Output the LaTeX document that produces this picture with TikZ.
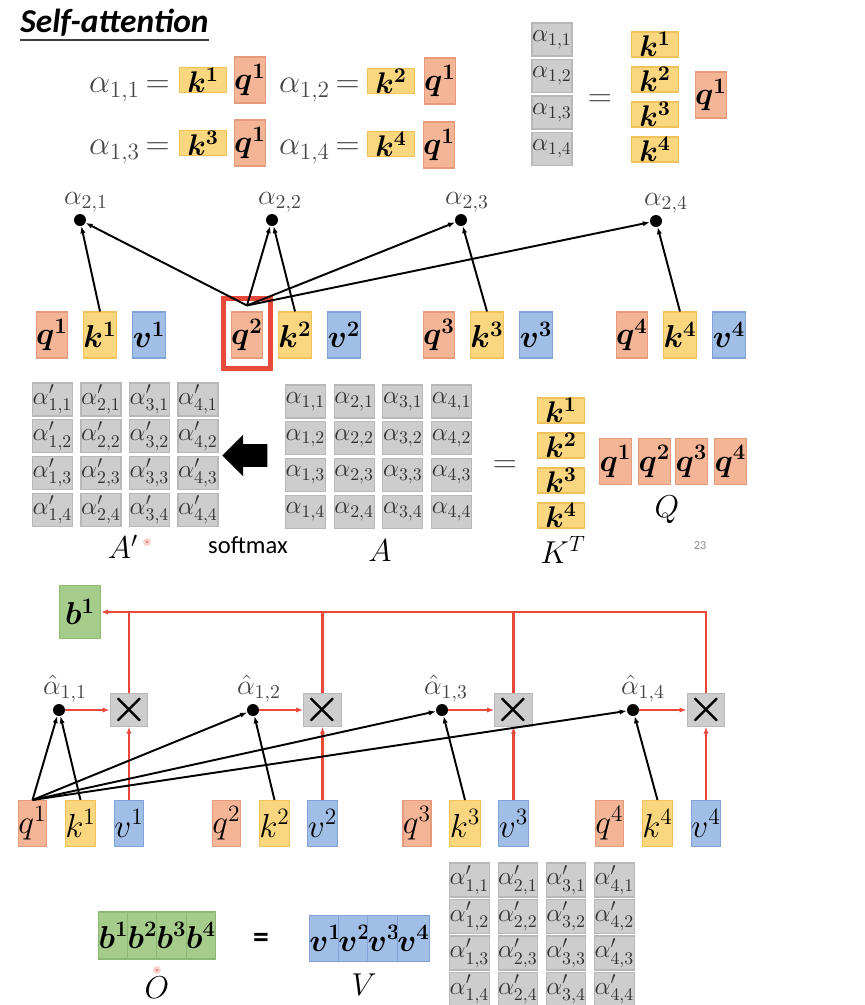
\documentclass[tikz,border=0pt]{standalone}
\usepackage{fix-cm}
\usepackage{amsmath,bm}
\usepackage{fontspec}
\setsansfont{Carlito}
\usetikzlibrary{arrows.meta,positioning,shapes.arrows}
\definecolor{qFill}{HTML}{F4B496}
\definecolor{qLine}{HTML}{E39B7B}
\definecolor{kFill}{HTML}{FAD67E}
\definecolor{kLine}{HTML}{EFC25C}
\definecolor{vFill}{HTML}{A0BEE6}
\definecolor{vLine}{HTML}{80A2D4}
\definecolor{aFill}{HTML}{CDCDCD}
\definecolor{aLine}{HTML}{B8B8B8}
\definecolor{bFill}{HTML}{A6CC8C}
\definecolor{bLine}{HTML}{8CB873}
\definecolor{attnRed}{HTML}{E8493B}
\definecolor{alphaGray}{HTML}{474747}
\newdimen\pxu \pxu=0.02cm
\newcommand\pxfont[1]{\fontsize{#1}{#1}\selectfont}
\newcommand\bvec[2]{$\bm{#1}^{\bm{#2}}$}

\begin{document}
\begin{tikzpicture}[
  x=\pxu, y=-\pxu,
  cell/.style={rectangle,inner sep=0pt,line width=0.6pt},
  qcell/.style={cell,fill=qFill,draw=qLine,minimum width=26\pxu,minimum height=46\pxu,font=\pxfont{18}},
  kcell/.style={cell,fill=kFill,draw=kLine,minimum width=26\pxu,minimum height=46\pxu,font=\pxfont{18}},
  vcell/.style={cell,fill=vFill,draw=vLine,minimum width=26\pxu,minimum height=46\pxu,font=\pxfont{18}},
  bcell/.style={cell,fill=bFill,draw=bLine,minimum width=27\pxu,minimum height=47\pxu,font=\pxfont{18}},
  kwide/.style={cell,fill=kFill,draw=kLine,minimum width=47\pxu,minimum height=25\pxu,font=\pxfont{17}},
  acell/.style={cell,fill=aFill,draw=aLine,minimum width=40\pxu,minimum height=33\pxu,font=\pxfont{14.5},text=black!80},
  mulcell/.style={cell,fill=aFill,draw=aLine,minimum size=26\pxu,font=\pxfont{24}},
  dot/.style={circle,fill=black,inner sep=0pt,minimum size=12\pxu},
  lab/.style={font=\pxfont{16},text=alphaGray,inner sep=0.5pt},
  eqtext/.style={font=\pxfont{19},text=alphaGray,inner sep=0pt},
  mlabel/.style={font=\pxfont{18},inner sep=0pt},
  laser/.style={circle,fill=attnRed!85,draw=attnRed!25,line width=1.5pt,minimum size=5\pxu,inner sep=0pt},
  blk/.style={-{Latex[length=4pt,width=3pt]},line width=1.1pt},
  redarr/.style={-{Latex[length=4pt,width=3pt]},attnRed,line width=1.2pt},
  redline/.style={attnRed,line width=1.2pt}
]
\useasboundingbox (0,0) rectangle (865,1005);

% title
\node[anchor=base west,inner sep=0pt,font=\sffamily\bfseries\itshape\pxfont{19}] (title) at (20,32) {Self-attention};
\draw[line width=1.1pt,black!75] ([yshift=-8\pxu]title.base west) -- ([yshift=-8\pxu]title.base east);

% alpha_{1,i} = k^i q^1
\node[eqtext,anchor=base east] (e11) at (170,92) {$\alpha_{1,1}\,{=}$};
\node[kwide] (e11k) at (203,80) {\bvec{k}{1}};
\node[qcell] (e11q) at (250,80) {\bvec{q}{1}};
\node[eqtext,anchor=base east] (e12) at (360,92) {$\alpha_{1,2}\,{=}$};
\node[kwide] (e12k) at (391,81) {\bvec{k}{2}};
\node[qcell] (e12q) at (440,81) {\bvec{q}{1}};
\node[eqtext,anchor=base east] (e13) at (170,154) {$\alpha_{1,3}\,{=}$};
\node[kwide] (e13k) at (203,143) {\bvec{k}{3}};
\node[qcell] (e13q) at (250,143) {\bvec{q}{1}};
\node[eqtext,anchor=base east] (e14) at (360,154) {$\alpha_{1,4}\,{=}$};
\node[kwide] (e14k) at (391,144) {\bvec{k}{4}};
\node[qcell] (e14q) at (439,145) {\bvec{q}{1}};

% column form
\foreach \r in {1,...,4} {
  \node[acell] (col\r) at (552,{39.5+36.5*(\r-1)}) {$\alpha_{1,\r}$};
  \node[kwide] (colk\r) at (655,{44.5+35*(\r-1)}) {\bvec{k}{\r}};
}
\node[eqtext] (coleq) at (600,101) {$=$};
\node[qcell] (colq) at (711,95) {\bvec{q}{1}};

% query 2 against all keys
\foreach \i/\x in {1/52,2/247,3/439,4/632} {
  \node[qcell] (q\i) at (\x,335) {\bvec{q}{\i}};
  \node[kcell] (k\i) at (\x+48,335) {\bvec{k}{\i}};
  \node[vcell] (v\i) at (\x+97,335) {\bvec{v}{\i}};
}
\node[draw=attnRed,line width=2.3pt,minimum width=47\pxu,minimum height=70\pxu,inner sep=0pt] (q2frame) at (247,333.5) {};
\coordinate[above=6\pxu of q2.north] (q2tip);
\node[dot,label={[lab,xshift=6\pxu]above:$\alpha_{2,1}$}] (d1) at (80,220) {};
\node[dot,label={[lab,xshift=8\pxu]above:$\alpha_{2,2}$}] (d2) at (272,220) {};
\node[dot,label={[lab,xshift=6\pxu]above:$\alpha_{2,3}$}] (d3) at (461,220) {};
\node[dot,label={[lab,xshift=10\pxu]above:$\alpha_{2,4}$}] (d4) at (656,221) {};
\foreach \i in {1,...,4} {
  \draw[blk] (k\i.north) -- (d\i);
  \draw[blk] (q2tip) -- (d\i);
}

% A' <- A = K^T Q
\foreach \c in {1,...,4} {
  \foreach \r in {1,...,4} {
    \node[acell] (ap\c\r) at ({52.5+48.5*(\c-1)},{399.5+36.7*(\r-1)}) {$\alpha'_{\c,\r}$};
    \node[acell] (a\c\r) at ({305.5+48.7*(\c-1)},{401.5+36.8*(\r-1)}) {$\alpha_{\c,\r}$};
  }
}
\node[single arrow,fill=black,inner sep=11\pxu,minimum height=45\pxu,single arrow head extend=9.5\pxu,shape border rotate=180] (smax) at (250.5,455.5) {};
\node[mlabel] (aplab) at (123,547) {$A'$};
\node[laser] (laser1) at (147,542) {};
\node[font=\sffamily\pxfont{14}] (smlab) at (248,545) {softmax};
\node[mlabel] (alab) at (380,551) {$A$};
\node[eqtext] (mideq) at (505,467) {$=$};
\foreach \r in {1,...,4}
  \node[kwide] (kt\r) at (561,{410.5+35*(\r-1)}) {\bvec{k}{\r}};
\foreach \i/\x in {1/615.5,2/654.5,3/691.5,4/730.5}
  \node[qcell,minimum width=25\pxu] (qm\i) at (\x,461.5) {\bvec{q}{\i}};
\node[mlabel] (ktlab) at (563,550) {$K^T$};
\node[mlabel] (qlab) at (667,510) {$Q$};
\node[font=\sffamily\pxfont{7},text=black!45] (pageno) at (700,546) {23};

% weighted sum of values
\node[bcell,minimum width=41\pxu,minimum height=53\pxu] (b1) at (80,612) {\bvec{b}{1}};
\foreach \i/\x/\m in {1/32.5/129,2/226.5/322.5,3/417/513.5,4/609.5/706} {
  \node[qcell,font=\pxfont{19}] (qq\i) at (\x,823.5) {$q^{\i}$};
  \node[kcell,font=\pxfont{19}] (kk\i) at (\x+48,823.5) {$k^{\i}$};
  \node[vcell,font=\pxfont{19}] (vv\i) at (\m,823.5) {$v^{\i}$};
  \node[mulcell] (m\i) at (\m,710) {$\bm{\times}$};
}
\node[dot,label={[lab,xshift=6\pxu]above:$\hat{\alpha}_{1,1}$}] (h1) at (59,710) {};
\node[dot,label={[lab,xshift=6\pxu]above:$\hat{\alpha}_{1,2}$}] (h2) at (253,710) {};
\node[dot,label={[lab,xshift=4\pxu]above:$\hat{\alpha}_{1,3}$}] (h3) at (442,710) {};
\node[dot,label={[lab,xshift=10\pxu]above:$\hat{\alpha}_{1,4}$}] (h4) at (633,710) {};
\foreach \i in {1,...,4} {
  \draw[blk] (qq1.north) -- (h\i);
  \draw[blk] (kk\i.north) -- (h\i);
  \draw[redarr] (h\i) -- (m\i);
  \draw[redarr] (vv\i.north) -- (m\i.south);
}
\foreach \i in {1,2,3}
  \draw[redline] (m\i.north) -- (m\i.north |- b1.east);
\draw[redarr] (m4.north) |- (b1.east);

% O = V A'
\foreach \i/\x in {1/113.5,2/142.5,3/171.5,4/201}
  \node[bcell] (bo\i) at (\x,935.5) {\bvec{b}{\i}};
\node[font=\sffamily\bfseries\pxfont{18}] (boteq) at (261,940) {=};
\foreach \i/\x in {1/325.5,2/354.5,3/384,4/413.5}
  \node[vcell,minimum width=27\pxu] (vo\i) at (\x,938.5) {\bvec{v}{\i}};
\node[mlabel] (olab) at (157,988) {$O$};
\node[laser] (laser2) at (157,970) {};
\node[mlabel] (vlab) at (364,985) {$V$};
\foreach \c in {1,...,4}
  \foreach \r in {1,...,4}
    \node[acell,minimum width=39\pxu,minimum height=34\pxu] (bp\c\r) at ({469.5+48.3*(\c-1)},{880+36.5*(\r-1)}) {$\alpha'_{\c,\r}$};
\end{tikzpicture}
\end{document}
